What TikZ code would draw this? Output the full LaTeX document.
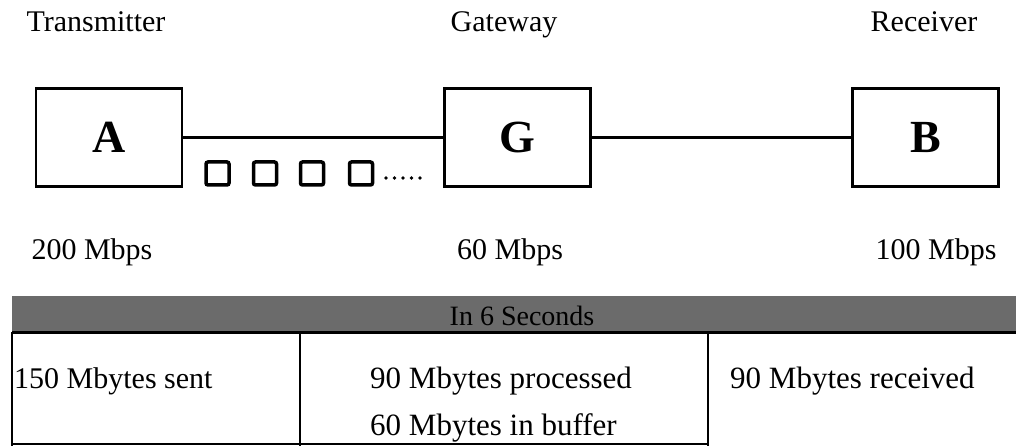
\documentclass[tikz,border=0pt]{standalone}
\usepackage{fontspec}
\setmainfont{Liberation Serif}
\begin{document}
\begin{tikzpicture}[x=1pt,y=-1pt,
  box/.style={draw, line width=2.7pt, minimum width=146pt, minimum height=98pt, font=\fontsize{46}{46}\selectfont\bfseries, inner sep=0pt},
  lbl/.style={font=\fontsize{30}{32}\selectfont, inner sep=0pt, anchor=base},
  cell/.style={font=\fontsize{31}{33}\selectfont, inner sep=0pt, anchor=base west},
  pkt/.style={draw, line width=3.5pt, rounded corners=2pt, minimum size=23pt, inner sep=0pt},
  link/.style={line width=2.5pt},
  rule/.style={line width=2pt},
  hdr/.style={fill=black!58, draw=none}]
\useasboundingbox (0,0) rectangle (1016,446);
% titles
\node[lbl] (tt) at (96,32) {Transmitter};
\node[lbl] (tg) at (504,32) {Gateway};
\node[lbl] (tr) at (924,32) {Receiver};
% boxes
\node[box] (A) at (109,137.5) {A};
\node[box] (G) at (517.5,137.5) {G};
\node[box] (B) at (925.5,137.5) {B};
\draw[link] (A) -- (G);
\draw[link] (G) -- (B);
% packets
\node[pkt] (p1) at (217.5,173.5) {};
\node[pkt] (p2) at (265,173.5) {};
\node[pkt] (p3) at (312,173.5) {};
\node[pkt] (p4) at (361,173.5) {};
\foreach \x in {386,394.5,403,411.5,420} \fill (\x,178) circle (1.9pt);
% rates
\node[lbl] (ra) at (92,259) {200 Mbps};
\node[lbl] (rg) at (510,259) {60 Mbps};
\node[lbl] (rb) at (936,259) {100 Mbps};
% header bar
\fill[hdr] (12,296) rectangle (1016,332);
\node[lbl, font=\fontsize{28}{30}\selectfont] (hd) at (522,325) {In 6 Seconds};
% table
\draw[line width=3pt] (12,332) -- (1016,332);
\draw[rule] (12,332) -- (12,446);
\draw[rule] (300,332) -- (300,446);
\draw[rule] (708,332) -- (708,446);
\draw[rule] (12,444) -- (708,444);
\node[cell, font=\fontsize{30}{32}\selectfont] (c1) at (14,388) {150 Mbytes sent};
\node[cell] (c2) at (370,388) {90 Mbytes processed};
\node[cell] (c3) at (370,435) {60 Mbytes in buffer};
\node[cell] (c4) at (730,388) {90 Mbytes received};
\end{tikzpicture}
\end{document}
